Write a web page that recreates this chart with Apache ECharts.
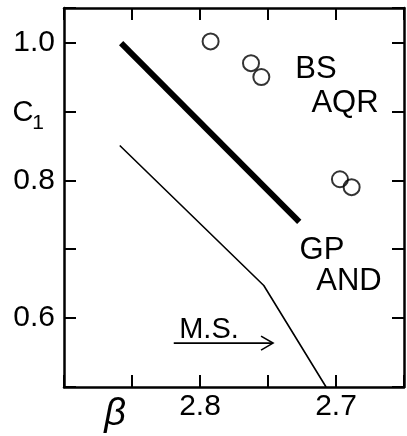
<!DOCTYPE html>
<html>
<head>
<meta charset="utf-8">
<script src="https://cdn.jsdelivr.net/npm/echarts@6/dist/echarts.min.js"></script>
<style>
html,body{margin:0;padding:0;background:#fff;}
#main{width:407px;height:436px;}
</style>
</head>
<body>
<div id="main"></div>
<script>
// Data
const thickBeta = [2.858, 2.727];
const thickC = [0.999, 0.7395];
const thinBeta = [2.859, 2.7531, 2.7073];
const thinC = [0.8505, 0.6473, 0.5];
const starBeta = [2.7922, 2.7625, 2.7549, 2.6971, 2.6885];
const starC = [1.0015, 0.970, 0.9498, 0.8015, 0.790];
const arrowBeta = [2.8193, 2.7463];
const arrowC = [0.5637, 0.5637];
const xTickLabels = ['2.8', '2.7'];
const yTickLabels = ['0.6', '0.8', '1.0'];

const FONT = 'Liberation Sans';
const zip = (a, b) => a.map((v, i) => [v, b[i]]);
const fmtMatch = (labels) => (v) => {
  for (const l of labels) if (Math.abs(v - parseFloat(l)) < 1e-6) return l;
  return '';
};

const chart = echarts.init(document.getElementById('main'), null, {renderer: 'canvas'});
const axisLine = {show: true, lineStyle: {color: '#000', width: 2.5}};
const tick = {show: true, inside: true, length: 12, lineStyle: {color: '#000', width: 2}};

const option = {
  animation: false,
  backgroundColor: '#fff',
  grid: {left: 64, right: 2, top: 8, bottom: 49},
  xAxis: [
    {type: 'value', inverse: true, min: 2.65, max: 2.90, interval: 0.05, position: 'bottom',
     axisLine, axisTick: tick, splitLine: {show: false},
     axisLabel: {formatter: fmtMatch(xTickLabels), color: '#000', fontSize: 30, fontFamily: FONT, margin: 5}},
    {type: 'value', inverse: true, min: 2.65, max: 2.90, interval: 0.05, position: 'top',
     axisLine, axisTick: tick, splitLine: {show: false}, axisLabel: {show: false}}
  ],
  yAxis: [
    {type: 'value', min: 0.5, max: 1.05, interval: 0.1, position: 'left',
     axisLine, axisTick: tick, splitLine: {show: false},
     axisLabel: {formatter: fmtMatch(yTickLabels), color: '#000', fontSize: 30, fontFamily: FONT, margin: 9}},
    {type: 'value', min: 0.5, max: 1.05, interval: 0.1, position: 'right',
     axisLine, axisTick: tick, splitLine: {show: false}, axisLabel: {show: false}}
  ],
  series: [
    {type: 'line', data: zip(thickBeta, thickC), symbol: 'none',
     lineStyle: {color: '#000', width: 6, cap: 'butt'}},
    {type: 'line', data: zip(thinBeta, thinC), symbol: 'none',
     lineStyle: {color: '#000', width: 1.6}},
    {type: 'scatter', data: zip(starBeta, starC), symbol: 'circle', symbolSize: 16,
     itemStyle: {color: 'rgba(0,0,0,0)', borderColor: '#000', borderWidth: 2}},
    {type: 'line', data: zip(arrowBeta, arrowC), symbol: 'none',
     lineStyle: {color: '#000', width: 1.6}}
  ]
};
chart.setOption(option);

// Arrow head at the end of the M.S. arrow, computed through the scales
const tip = chart.convertToPixel({gridIndex: 0}, [arrowBeta[1], arrowC[1]]);
const txt = (text, x, y, size, extra) => ({
  type: 'text', x, y,
  style: Object.assign({text, fill: '#000', fontSize: size, fontFamily: FONT, align: 'center', verticalAlign: 'middle'}, extra || {})
});
chart.setOption({
  graphic: [
    {type: 'polyline', shape: {points: [[tip[0] - 12, tip[1] - 7], tip, [tip[0] - 12, tip[1] + 7]]},
     style: {stroke: '#000', lineWidth: 1.6, fill: null}},
    txt('BS', 316, 69, 31),
    txt('AQR', 345, 103, 31),
    txt('GP', 322, 250, 31),
    txt('AND', 349, 281, 31),
    txt('M.S.', 209, 330, 29),
    txt('C', 23, 113, 29),
    txt('1', 38, 123, 21),
    txt('β', 115, 414, 38, {fontStyle: 'italic'})
  ]
});
</script>
</body>
</html>
